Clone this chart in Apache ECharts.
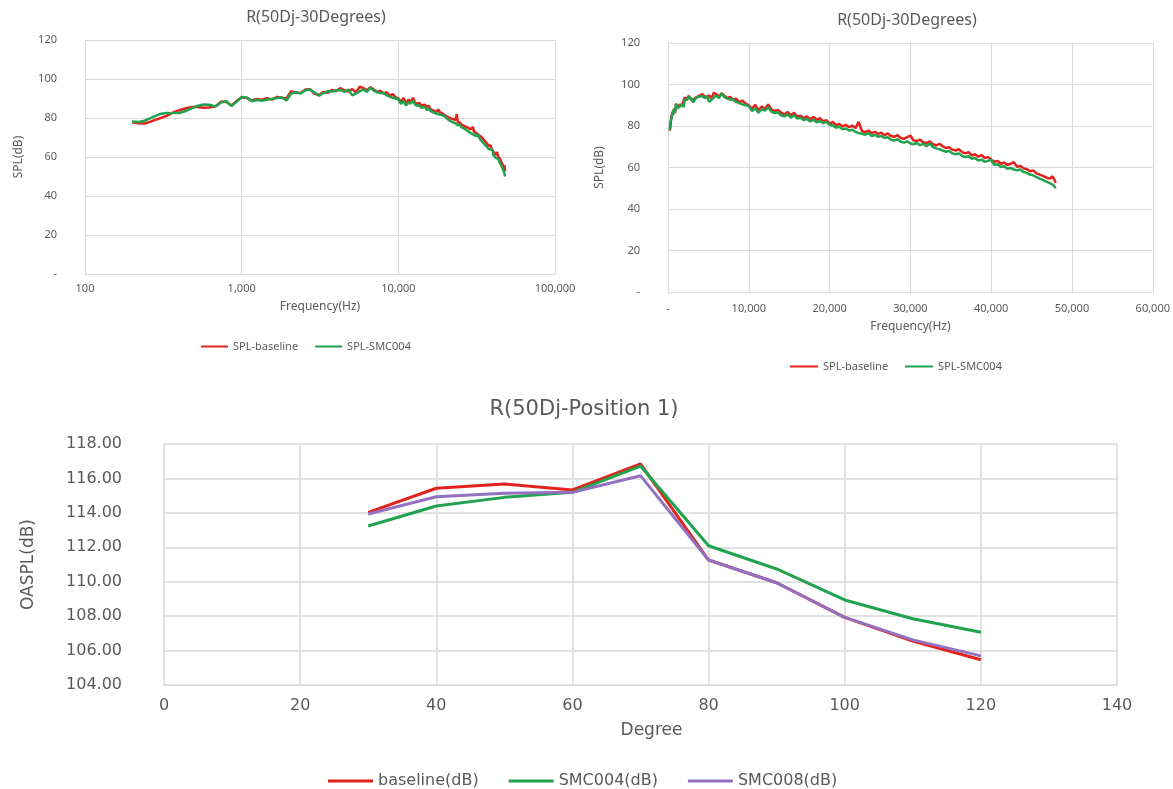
<!DOCTYPE html>
<html>
<head>
<meta charset="utf-8">
<title>R(50Dj) SPL / OASPL</title>
<script src="https://cdn.jsdelivr.net/npm/echarts@6/dist/echarts.min.js"></script>
<style>
  html, body { margin: 0; padding: 0; background: #fff; }
  #main { width: 1173px; height: 789px; }
</style>
</head>
<body>
<div id="main"></div>
<script>
// 频谱：频率 (Hz)，两张上图共用同一组数据
const freqHz = [
  200, 220, 240, 260, 280, 300, 330, 360, 400, 440,
  480, 520, 570, 620, 680, 740, 800, 860, 930, 1000,
  1080, 1160, 1250, 1350, 1450, 1560, 1680, 1800, 1930, 2070,
  2220, 2380, 2550, 2730, 2920, 3120, 3330, 3550, 3780, 4020,
  4270, 4530, 4800, 5080, 5370, 5670, 5980, 6300, 6630, 6970,
  7320, 7680, 8050, 8430, 8820, 9220, 9630, 10000,
  10400, 10800, 11200, 11600, 12000, 12400, 12800, 13200, 13600, 14000,
  14400, 14800, 15200, 15600, 16000, 16400, 16800, 17200, 17600, 18000,
  18400, 18800, 19200, 19600, 20000, 20400, 20800, 21200, 21600, 22000,
  22400, 22800, 23200, 23600, 24000, 24400, 24800, 25200, 25600, 26000,
  26400, 26800, 27200, 27600, 28000, 28400, 28800, 29200, 29600, 30000,
  30400, 30800, 31200, 31600, 32000, 32400, 32800, 33200, 33600, 34000,
  34400, 34800, 35200, 35600, 36000, 36400, 36800, 37200, 37600, 38000,
  38400, 38800, 39200, 39600, 40000, 40400, 40800, 41200, 41600, 42000,
  42400, 42800, 43200, 43600, 44000, 44400, 44800, 45200, 45600, 46000,
  46400, 46800, 47200, 47600, 48000
]

// SPL(dB) - baseline
const splBaseline = [
  77.8, 77.3, 77.2, 78.0, 79.0, 79.8, 81.0, 82.6, 84.0, 85.0,
  85.6, 85.7, 85.3, 85.4, 86.0, 88.4, 88.2, 86.4, 88.8, 90.6,
  90.2, 89.0, 89.8, 89.4, 90.2, 89.4, 90.8, 90.4, 90.0, 93.8,
  93.0, 92.8, 94.6, 94.8, 92.4, 91.8, 93.4, 93.0, 94.4, 93.8,
  95.4, 94.2, 93.6, 94.8, 93.2, 96.0, 95.4, 94.2, 95.8, 94.6,
  93.4, 94.0, 92.6, 93.2, 91.4, 92.2, 90.6, 90.0,
  88.4, 90.2, 87.6, 89.4, 88.2, 90.4, 88.0, 87.2, 87.8, 86.4,
  85.6, 86.8, 85.2, 86.4, 84.6, 85.0, 83.8, 84.6, 83.2, 84.4,
  83.0, 83.8, 82.2, 82.8, 81.2, 82.0, 80.4, 81.0, 79.8, 80.6,
  79.4, 80.2, 79.0, 82.0, 77.6, 77.0, 77.8, 76.6, 77.2, 76.2,
  76.8, 75.6, 76.4, 75.2, 74.8, 75.6, 74.2, 73.8, 74.6, 75.4,
  73.0, 72.8, 73.4, 72.2, 71.8, 72.6, 71.2, 70.6, 71.4, 70.2,
  69.4, 69.8, 68.6, 68.2, 68.8, 67.4, 66.8, 67.4, 65.8, 66.4,
  65.2, 66.0, 64.6, 65.0, 63.8, 62.8, 63.2, 61.8, 62.4, 61.2,
  61.8, 62.6, 60.4, 60.8, 59.6, 59.2, 58.2, 58.6, 57.2, 56.6,
  56.0, 55.2, 54.6, 55.8, 52.6
]

// SPL(dB) - SMC004
const splSmc004 = [
  78.2, 78.0, 78.6, 79.8, 81.0, 82.0, 82.6, 82.5, 82.6, 83.6,
  85.0, 86.2, 86.9, 86.8, 85.9, 88.0, 88.6, 86.2, 88.4, 90.8,
  90.5, 88.6, 89.2, 88.8, 89.4, 89.8, 90.2, 90.6, 89.0, 92.6,
  93.2, 92.6, 94.2, 94.6, 93.0, 91.4, 92.8, 93.8, 93.6, 94.2,
  94.4, 93.4, 94.6, 91.6, 92.6, 93.8, 94.6, 93.4, 95.6, 94.0,
  93.2, 92.8, 92.8, 91.6, 91.0, 90.4, 90.0, 89.6,
  87.2, 88.6, 86.4, 88.0, 87.4, 89.0, 86.8, 86.2, 86.6, 85.2,
  84.6, 85.6, 84.0, 85.2, 83.6, 84.0, 82.8, 83.4, 82.2, 83.0,
  81.8, 82.4, 81.4, 82.0, 80.6, 80.2, 79.2, 79.6, 78.4, 78.8,
  77.8, 78.2, 77.2, 76.6, 76.2, 75.8, 76.6, 75.2, 75.8, 74.8,
  75.2, 74.2, 74.6, 73.4, 73.0, 73.6, 72.4, 72.0, 72.6, 71.6,
  71.2, 71.8, 70.8, 71.4, 70.2, 71.6, 69.8, 69.2, 68.8, 68.2,
  67.6, 68.0, 66.8, 66.4, 66.8, 65.6, 65.0, 65.4, 64.2, 64.6,
  63.4, 63.8, 62.8, 63.2, 63.6, 61.2, 61.6, 60.2, 60.6, 59.4,
  59.8, 59.0, 58.6, 59.0, 57.8, 57.4, 56.6, 56.2, 55.4, 54.6,
  54.0, 53.2, 52.6, 51.8, 50.0
]

// OASPL 随角度变化
const degrees = [30, 40, 50, 60, 70, 80, 90, 100, 110, 120]
const oasplBaseline = [114.03, 115.43, 115.68, 115.33, 116.85, 111.26, 109.94, 107.93, 106.55, 105.47]
const oasplSmc004 = [113.24, 114.40, 114.90, 115.19, 116.72, 112.09, 110.74, 108.94, 107.85, 107.06]
const oasplSmc008 = [113.93, 114.94, 115.14, 115.19, 116.16, 111.26, 109.94, 107.93, 106.62, 105.69]

const topNames = ['SPL-baseline', 'SPL-SMC004']
const bottomNames = ['baseline(dB)', 'SMC004(dB)', 'SMC008(dB)']

const RED = '#e2231d'
const GREEN = '#21a24f'
const PURPLE = '#9470c0'
const TEXT = '#595959'
const GRID = '#d9d9d9'

const topFont = 'Noto Sans'
const bottomFont = 'DejaVu Sans'

function fmtThousands(v) {
  return Math.round(v).toLocaleString('en-US')
}

function zeroDash(v) {
  return v === 0 ? '-' : fmtThousands(v)
}

// 上面两张图的公共坐标轴样式
function topYAxis(gridIndex, gap) {
  return {
    gridIndex: gridIndex,
    type: 'value',
    min: 0,
    max: 120,
    interval: 20,
    name: 'SPL(dB)',
    nameLocation: 'middle',
    nameGap: gap,
    nameTextStyle: { color: TEXT, fontSize: 12, fontFamily: topFont },
    axisLine: { show: false },
    axisTick: { show: false },
    axisLabel: { color: TEXT, fontSize: 11, fontFamily: topFont, margin: 28, formatter: zeroDash },
    splitLine: { lineStyle: { color: GRID, width: 1 } },
  }
}

const pairs = (xs, ys) => xs.map((x, i) => [x, ys[i]])

// 折线系列
function lineSeries(name, axisIdx, data, color, width) {
  return {
    name: name, type: 'line', xAxisIndex: axisIdx, yAxisIndex: axisIdx,
    data: data, showSymbol: false,
    lineStyle: { color: color, width: width }, itemStyle: { color: color },
  }
}

const option = {
  animation: false,
  backgroundColor: '#fff',
  title: [
    {
      text: 'R(50Dj-30Degrees)',
      left: 311, top: 4, textAlign: 'center',
      textStyle: { color: TEXT, fontSize: 16, fontWeight: 'normal', fontFamily: topFont },
    },
    {
      text: 'R(50Dj-30Degrees)',
      left: 902, top: 7, textAlign: 'center',
      textStyle: { color: TEXT, fontSize: 16, fontWeight: 'normal', fontFamily: topFont },
    },
    {
      text: 'R(50Dj-Position 1)',
      left: 579, top: 394, textAlign: 'center',
      textStyle: { color: TEXT, fontSize: 21, fontWeight: 'normal', fontFamily: bottomFont },
    },
  ],
  legend: [
    {
      data: topNames,
      left: 196, top: 336,
      icon: 'rect', itemWidth: 27, itemHeight: 2, itemGap: 17,
      textStyle: { color: TEXT, fontSize: 11, fontFamily: topFont },
    },
    {
      data: topNames,
      left: 785, top: 356,
      icon: 'rect', itemWidth: 28, itemHeight: 2, itemGap: 17,
      textStyle: { color: TEXT, fontSize: 11, fontFamily: topFont },
    },
    {
      data: bottomNames,
      left: 323, top: 768,
      icon: 'rect', itemWidth: 45, itemHeight: 3, itemGap: 30,
      textStyle: { color: TEXT, fontSize: 16, fontFamily: bottomFont },
    },
  ],
  grid: [
    { left: 85, top: 40, width: 470, height: 234 },
    { left: 668, top: 43, width: 493, height: 249 },
    { left: 164, top: 444, width: 953, height: 241 },
  ],
  xAxis: [
    {
      gridIndex: 0,
      type: 'log',
      logBase: 10,
      min: 100,
      max: 100000,
      name: 'Frequency(Hz)',
      nameLocation: 'middle',
      nameGap: 27,
      nameTextStyle: { color: TEXT, fontSize: 12, fontFamily: topFont },
      axisLine: { lineStyle: { color: GRID } },
      axisTick: { show: false },
      axisLabel: { color: TEXT, fontSize: 11, fontFamily: topFont, margin: 9, formatter: fmtThousands },
      splitLine: { show: true, lineStyle: { color: GRID, width: 1 } },
    },
    {
      gridIndex: 1,
      type: 'value',
      min: 0,
      max: 60000,
      interval: 10000,
      name: 'Frequency(Hz)',
      nameLocation: 'middle',
      nameGap: 29,
      nameTextStyle: { color: TEXT, fontSize: 12, fontFamily: topFont },
      axisLine: { lineStyle: { color: GRID } },
      axisTick: { show: false },
      axisLabel: { color: TEXT, fontSize: 11, fontFamily: topFont, margin: 11, formatter: zeroDash },
      splitLine: { show: true, lineStyle: { color: GRID, width: 1 } },
    },
    {
      gridIndex: 2,
      type: 'value',
      min: 0,
      max: 140,
      interval: 20,
      name: 'Degree',
      nameLocation: 'middle',
      nameGap: 37,
      nameTextStyle: { color: TEXT, fontSize: 17, fontFamily: bottomFont, padding: [0, 0, 0, 22] },
      axisLine: { lineStyle: { color: GRID } },
      axisTick: { show: false },
      axisLabel: { color: TEXT, fontSize: 16, fontFamily: bottomFont, margin: 13 },
      splitLine: { show: true, lineStyle: { color: GRID, width: 1.5 } },
    },
  ],
  yAxis: [
    topYAxis(0, 60),
    topYAxis(1, 62),
    {
      gridIndex: 2,
      type: 'value',
      min: 104,
      max: 118,
      interval: 2,
      name: 'OASPL(dB)',
      nameLocation: 'middle',
      nameGap: 127,
      nameTextStyle: { color: TEXT, fontSize: 17, fontFamily: bottomFont },
      axisLine: { show: false },
      axisTick: { show: false },
      axisLabel: {
        color: TEXT, fontSize: 16, fontFamily: bottomFont, margin: 42,
        formatter: v => v.toFixed(2),
      },
      splitLine: { lineStyle: { color: GRID, width: 1.5 } },
    },
  ],
  series: [
    lineSeries(topNames[0], 0, pairs(freqHz, splBaseline), RED, 2.5),
    lineSeries(topNames[1], 0, pairs(freqHz, splSmc004), GREEN, 2.5),
    lineSeries(topNames[0], 1, pairs(freqHz, splBaseline), RED, 2.5),
    lineSeries(topNames[1], 1, pairs(freqHz, splSmc004), GREEN, 2.5),
    lineSeries(bottomNames[0], 2, pairs(degrees, oasplBaseline), RED, 3),
    lineSeries(bottomNames[1], 2, pairs(degrees, oasplSmc004), GREEN, 3),
    lineSeries(bottomNames[2], 2, pairs(degrees, oasplSmc008), PURPLE, 3),
  ],
}

const chart = echarts.init(document.getElementById('main'), null, { renderer: 'canvas' })
chart.setOption(option)
</script>
</body>
</html>
